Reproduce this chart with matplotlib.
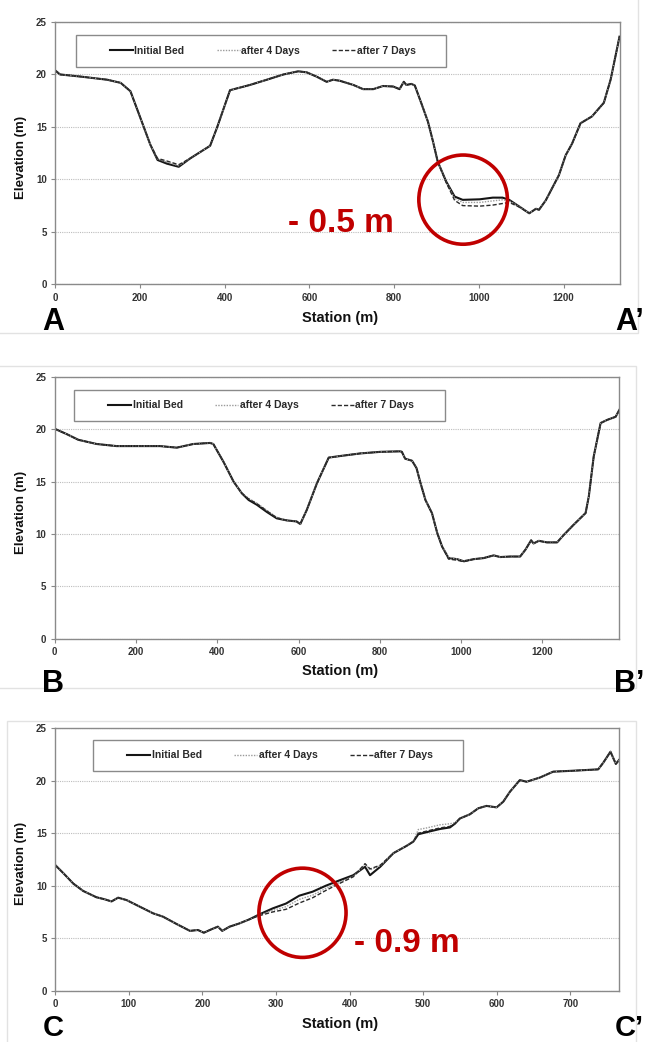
import matplotlib
matplotlib.use("Agg")
import matplotlib.pyplot as plt
from matplotlib.patches import Ellipse, Rectangle

plt.rcParams['font.family'] = ['Liberation Sans', 'DejaVu Sans']

W, H = 646, 1042  # figure size in pixels

# ---------------- section A - A' ----------------
station_a = [0, 12, 60, 123, 155, 178, 202, 225, 242, 264,
             292, 319, 366, 382, 413, 460, 500, 539, 574, 594,
             617, 641, 656, 672, 704, 727, 751, 774, 798, 813,
             823, 829, 841, 849, 864, 880, 892, 903, 923, 943,
             962, 1002, 1033, 1056, 1072, 1096, 1119, 1135, 1142, 1158,
             1189, 1205, 1220, 1240, 1267, 1295, 1311, 1332]
bed_a = [20.4, 20.0, 19.8, 19.5, 19.2, 18.4, 15.8, 13.3, 11.85, 11.5,
         11.2, 12.0, 13.2, 14.9, 18.5, 19.0, 19.5, 20.0, 20.3, 20.2,
         19.8, 19.3, 19.5, 19.4, 19.0, 18.6, 18.6, 18.9, 18.85, 18.6,
         19.3, 19.0, 19.1, 18.95, 17.3, 15.5, 13.6, 11.7, 9.8, 8.36,
         8.05, 8.1, 8.26, 8.26, 8.04, 7.4, 6.77, 7.2, 7.1, 8.0,
         10.4, 12.3, 13.4, 15.35, 16.0, 17.3, 19.5, 23.6]
day4_a = [20.4, 20.0, 19.8, 19.5, 19.2, 18.4, 15.8, 13.3, 11.95, 11.65,
          11.3, 12.0, 13.2, 14.9, 18.5, 19.0, 19.5, 20.0, 20.3, 20.2,
          19.8, 19.3, 19.5, 19.4, 19.0, 18.6, 18.6, 18.9, 18.85, 18.6,
          19.3, 19.0, 19.1, 18.95, 17.3, 15.5, 13.6, 11.7, 9.75, 8.2,
          7.8, 7.8, 7.95, 8.05, 7.95, 7.4, 6.77, 7.2, 7.1, 8.0,
          10.4, 12.3, 13.4, 15.35, 16.0, 17.3, 19.5, 23.6]
day7_a = [20.4, 20.0, 19.8, 19.5, 19.2, 18.4, 15.8, 13.3, 12.0, 11.75,
          11.4, 12.0, 13.2, 14.9, 18.5, 19.0, 19.5, 20.0, 20.3, 20.2,
          19.8, 19.3, 19.5, 19.4, 19.0, 18.6, 18.6, 18.9, 18.85, 18.6,
          19.3, 19.0, 19.1, 18.95, 17.3, 15.5, 13.6, 11.7, 9.7, 8.0,
          7.5, 7.45, 7.55, 7.7, 7.8, 7.35, 6.77, 7.2, 7.1, 8.0,
          10.4, 12.3, 13.4, 15.35, 16.0, 17.3, 19.5, 23.6]

# ---------------- section B - B' ----------------
station_b = [0, 29, 58, 103, 152, 202, 259, 300, 341, 382,
             390, 415, 440, 460, 477, 497, 522, 546, 571, 595,
             604, 620, 645, 674, 702, 752, 801, 850, 854, 862,
             879, 890, 900, 912, 928, 941, 953, 969, 990, 1006,
             1031, 1055, 1080, 1096, 1121, 1145, 1158, 1172, 1178, 1191,
             1211, 1236, 1252, 1277, 1306, 1314, 1326, 1343, 1359, 1380,
             1389]
bed_b = [20.05, 19.55, 19.0, 18.6, 18.4, 18.4, 18.4, 18.25, 18.6, 18.7,
         18.6, 16.9, 15.0, 13.9, 13.25, 12.8, 12.1, 11.5, 11.3, 11.2,
         10.95, 12.3, 14.85, 17.3, 17.45, 17.7, 17.85, 17.9, 17.85, 17.2,
         17.0, 16.3, 14.85, 13.25, 12.0, 10.1, 8.8, 7.7, 7.6, 7.4,
         7.6, 7.7, 7.96, 7.8, 7.85, 7.85, 8.5, 9.4, 9.1, 9.35,
         9.2, 9.2, 9.9, 10.9, 12.0, 13.6, 17.4, 20.6, 20.9, 21.2,
         21.85]
day4_b = [20.05, 19.55, 19.0, 18.6, 18.4, 18.4, 18.4, 18.25, 18.6, 18.7,
          18.6, 16.9, 15.0, 13.9, 13.4, 12.95, 12.25, 11.6, 11.3, 11.2,
          10.95, 12.3, 14.85, 17.3, 17.45, 17.7, 17.85, 17.9, 17.85, 17.2,
          17.0, 16.3, 14.85, 13.25, 12.0, 10.1, 8.8, 7.8, 7.6, 7.4,
          7.6, 7.7, 7.96, 7.8, 7.85, 7.85, 8.5, 9.4, 9.1, 9.35,
          9.2, 9.2, 9.9, 10.9, 12.0, 13.6, 17.4, 20.6, 20.9, 21.2,
          21.85]
day7_b = [20.05, 19.55, 19.0, 18.6, 18.4, 18.4, 18.4, 18.25, 18.6, 18.7,
          18.6, 16.9, 15.0, 13.9, 13.35, 12.9, 12.2, 11.55, 11.3, 11.2,
          10.95, 12.3, 14.85, 17.3, 17.45, 17.7, 17.85, 17.9, 17.85, 17.2,
          17.0, 16.3, 14.85, 13.25, 12.0, 10.1, 8.8, 7.6, 7.5, 7.35,
          7.6, 7.7, 7.96, 7.8, 7.85, 7.85, 8.5, 9.4, 9.1, 9.35,
          9.2, 9.2, 9.9, 10.9, 12.0, 13.6, 17.4, 20.6, 20.9, 21.2,
          21.85]

# ---------------- section C - C' ----------------
station_c = [0, 11, 24.6, 38, 56, 67.5, 76.5, 85.5, 97, 115,
             133, 146.5, 165, 183, 194, 202, 212, 221, 227, 237,
             250, 264, 277.5, 295.6, 313.6, 331.7, 349.8, 367.8, 386, 405,
             421, 427.8, 441.6, 459.6, 477.6, 486.6, 493.4, 504.7, 522.8, 536.4,
             543, 549.9, 563.5, 574.8, 586, 599.8, 608.8, 617.9, 631.4, 640.5,
             658.6, 676.7, 703.9, 737.8, 744.6, 754.5, 761.8, 766.5]
bed_c = [11.97, 11.2, 10.2, 9.5, 8.9, 8.7, 8.5, 8.86, 8.63, 8.0,
         7.37, 7.05, 6.35, 5.7, 5.78, 5.52, 5.84, 6.1, 5.7, 6.1,
         6.4, 6.8, 7.27, 7.84, 8.3, 9.05, 9.43, 10.0, 10.5, 11.0,
         11.8, 11.0, 11.8, 13.1, 13.8, 14.2, 14.9, 15.1, 15.4, 15.55,
         15.9, 16.4, 16.8, 17.37, 17.6, 17.46, 18.0, 18.95, 20.06, 19.9,
         20.3, 20.86, 20.95, 21.08, 21.7, 22.76, 21.6, 22.0]
day4_c = [11.97, 11.2, 10.2, 9.5, 8.9, 8.7, 8.5, 8.86, 8.63, 8.0,
          7.37, 7.05, 6.35, 5.7, 5.78, 5.52, 5.84, 6.1, 5.7, 6.1,
          6.4, 6.8, 7.2, 7.65, 8.0, 8.7, 9.1, 9.75, 10.3, 10.9,
          12.0, 11.5, 11.9, 13.1, 13.8, 14.2, 15.35, 15.5, 15.8, 15.9,
          16.0, 16.4, 16.8, 17.37, 17.6, 17.46, 18.0, 18.95, 20.06, 19.9,
          20.3, 20.86, 20.95, 21.08, 21.7, 22.76, 21.6, 22.0]
day7_c = [11.97, 11.2, 10.2, 9.5, 8.9, 8.7, 8.5, 8.86, 8.63, 8.0,
          7.37, 7.05, 6.35, 5.7, 5.78, 5.52, 5.84, 6.1, 5.7, 6.1,
          6.4, 6.8, 7.15, 7.5, 7.75, 8.35, 8.85, 9.55, 10.2, 10.85,
          12.1, 11.6, 11.95, 13.1, 13.8, 14.2, 15.0, 15.2, 15.5, 15.65,
          15.9, 16.4, 16.8, 17.37, 17.6, 17.46, 18.0, 18.95, 20.06, 19.9,
          20.3, 20.86, 20.95, 21.08, 21.7, 22.76, 21.6, 22.0]

series_names = ["Initial Bed", "after 4 Days", "after 7 Days"]
y_ticks = [0, 5, 10, 15, 20, 25]
RED = "#C00000"


def fx(px):
    return px / W


def fy(py):
    return 1 - py / H


def make_panel(fig, box, xmax, xstep, stations, beds, leg_box):
    # box = (left, top, right, bottom) in pixels
    l, t, r, b = box
    ax = fig.add_axes([fx(l), fy(b), (r - l) / W, (b - t) / H])
    ax.plot(stations, beds[0], color="#151515", lw=1.5, ls="-", label=series_names[0])
    ax.plot(stations, beds[1], color="#9a9a9a", lw=1.0, ls=(0, (1, 1)), label=series_names[1])
    ax.plot(stations, beds[2], color="#2a2a2a", lw=1.0, ls=(0, (3, 1.5)), label=series_names[2])
    ax.set_xlim(0, xmax)
    ax.set_ylim(0, 25)
    xt = list(range(0, int(xmax) + 1, xstep))
    ax.set_xticks(xt)
    ax.set_xticklabels([str(v) for v in xt], fontsize=7, fontweight="bold", color="#333333")
    ax.set_yticks(y_ticks)
    ax.set_yticklabels([str(v) for v in y_ticks], fontsize=7, fontweight="bold", color="#333333")
    ax.tick_params(direction="out", length=3, width=0.8, color="#888888", pad=3)
    ax.yaxis.grid(True, color="#bdbdbd", ls=(0, (1, 1)), lw=0.8)
    ax.set_axisbelow(True)
    for sp in ax.spines.values():
        sp.set_color("#8a8a8a")
        sp.set_linewidth(1.0)

    # legend box (drawn inside the axes so the legend can sit on top)
    lx0, ly0, lx1, ly1 = leg_box
    ax.add_patch(Rectangle((fx(lx0), fy(ly1)), (lx1 - lx0) / W, (ly1 - ly0) / H,
                           transform=fig.transFigure, fill=True, fc="white",
                           ec="#8a8a8a", lw=1.0, zorder=5, clip_on=False))
    leg = ax.legend(loc="center left", bbox_to_anchor=(fx(lx0 + 34), fy((ly0 + ly1) / 2)),
                    bbox_transform=fig.transFigure, ncol=3, frameon=False,
                    fontsize=7.5, handlelength=2.2, handletextpad=0.15,
                    columnspacing=3.1, borderpad=0, borderaxespad=0)
    leg.set_zorder(6)
    for txt in leg.get_texts():
        txt.set_fontweight("bold")
        txt.set_color("#2a2a2a")
    return ax


fig = plt.figure(figsize=(W / 100, H / 100), dpi=100)
fig.patch.set_facecolor("white")

# light chart-area borders
for (x0, y0, x1, y1) in [(-2, -2, 638, 333), (-2, 366, 636, 688), (7, 721, 636, 1046)]:
    fig.patches.append(Rectangle((fx(x0), fy(y1)), (x1 - x0) / W, (y1 - y0) / H,
                                 transform=fig.transFigure, fill=False, ec="#e2e2e2", lw=1.0))

ax1 = make_panel(fig, (55, 22, 619.5, 284.3), 1332, 200, station_a,
                 [bed_a, day4_a, day7_a], (75.7, 35, 446, 66.7))
ax2 = make_panel(fig, (54.8, 377, 619.3, 638.7), 1389, 200, station_b,
                 [bed_b, day4_b, day7_b], (74.3, 390, 445, 420.7))
ax3 = make_panel(fig, (55.2, 728.2, 619.3, 990.7), 766.5, 100, station_c,
                 [bed_c, day4_c, day7_c], (93.3, 740, 462.7, 770.7))

# axis titles
for ymid, ybase, in [(157, 322), (512, 675), (863, 1028)]:
    fig.text(fx(21), fy(ymid), "Elevation (m)", rotation=90, ha="center", va="center",
             fontsize=9.5, fontweight="bold", color="#111111")
    fig.text(fx(340), fy(ybase), "Station (m)", ha="center", va="baseline",
             fontsize=10.5, fontweight="bold", color="#111111")

# section letters
for left, right, base, size in [("A", "A\u2019", 330, 22), ("B", "B\u2019", 692, 22),
                                ("C", "C\u2019", 1036, 21)]:
    fig.text(fx(53), fy(base), left, ha="center", va="baseline",
             fontsize=size, fontweight="bold", color="black")
    fig.text(fx(644), fy(base), right, ha="right", va="baseline",
             fontsize=size, fontweight="bold", color="black")

# red erosion highlights
ax1.add_patch(Ellipse((963, 8.07), 209, 8.5, fill=False, ec=RED, lw=2.6, clip_on=False, zorder=7))
ax3.add_patch(Ellipse((336, 7.42), 118.4, 8.5, fill=False, ec=RED, lw=2.6, clip_on=False, zorder=7))
fig.text(fx(288), fy(232), "- 0.5 m", ha="left", va="baseline",
         fontsize=24, fontweight="bold", color=RED)
fig.text(fx(354), fy(951.5), "- 0.9 m", ha="left", va="baseline",
         fontsize=24, fontweight="bold", color=RED)

fig.savefig("out.png", dpi=100)
